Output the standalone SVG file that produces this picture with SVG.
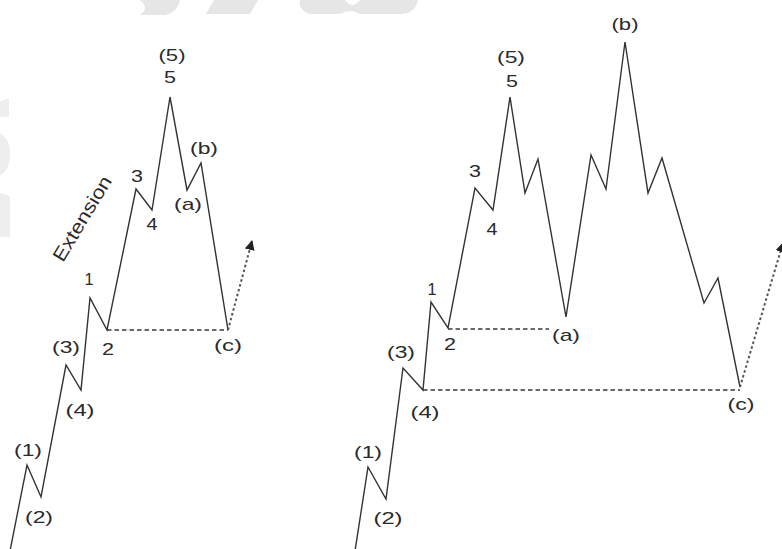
<svg xmlns="http://www.w3.org/2000/svg" width="782" height="549" viewBox="0 0 782 549">
<style>
.wm{fill:#e6e6e6;stroke:none}
.wm2{fill:#eeeeee;stroke:none}
.wave{fill:none;stroke:#333;stroke-width:1.4;stroke-linejoin:miter}
.dash{fill:none;stroke:#3a3a3a;stroke-width:1.4;stroke-dasharray:4.5 3}
.dot{fill:none;stroke:#555;stroke-width:2;stroke-dasharray:2.5 2.5}
.lbl{font-family:"Liberation Sans",Arial,sans-serif;font-size:17px;fill:#2a2a2a;text-anchor:middle}
</style>
<defs>
<marker id="ah" viewBox="0 0 10 10" refX="9" refY="5" markerWidth="10" markerHeight="10" markerUnits="userSpaceOnUse" orient="auto">
<path d="M0,0 L10,5 L0,10 Z" fill="#222"/>
</marker>
</defs>
<rect width="782" height="549" fill="#fff"/>
<g id="watermark">
<path class="wm" d="M140,0 L180,0 Q178,12 165,15 L140,15 Q150,8 140,0 Z"/>
<path class="wm" d="M214,0 L258,0 L250,14 L206,14 Z"/>
<path class="wm" d="M300,0 L345,0 Q352,10 360,0 L418,0 Q415,14 400,14 L360,14 Q350,8 340,14 L310,14 Q298,10 300,0 Z"/>
<path class="wm2" d="M0,102 L9,98 L9,117 L0,117 Z"/>
<path class="wm2" d="M0,133 Q11,140 10,155 Q10,170 0,176 Z"/>
<path class="wm2" d="M0,193 L10,196 L10,237 L0,237 Z"/>
</g>
<g id="connectors">
<polyline id="wave-left" class="wave" points="10,551 27,465 41,497 66,365 81,390 90,298 107,330 136,189 152,210 170,97 187,190 201,163 228,330"/>
<polyline id="wave-right" class="wave" points="355,551 368,467 386,499 403,368 423,390 431,302 448,328 475,188 493,210 510,97 525,193 538,159 566,317 591,155 606,189 625,42 648,193 662,158 704,303 718,278 740,387"/>
<line class="dash" x1="107" y1="330" x2="228" y2="330"/>
<line class="dash" x1="448" y1="329" x2="549" y2="329"/>
<line class="dash" x1="423" y1="390" x2="740" y2="390"/>
<line class="dot" x1="228" y1="330" x2="252" y2="241" marker-end="url(#ah)"/>
<line class="dot" x1="740" y1="387" x2="783" y2="243" marker-end="url(#ah)"/>
</g>
<g id="labels-left">
<text class="lbl" x="172" y="61" textLength="27" lengthAdjust="spacingAndGlyphs">(5)</text>
<text class="lbl" x="170" y="83" textLength="12" lengthAdjust="spacingAndGlyphs">5</text>
<text class="lbl" x="204" y="154" textLength="28" lengthAdjust="spacingAndGlyphs">(b)</text>
<text class="lbl" x="188" y="210" textLength="28" lengthAdjust="spacingAndGlyphs">(a)</text>
<text class="lbl" x="137" y="182" textLength="12" lengthAdjust="spacingAndGlyphs">3</text>
<text class="lbl" x="152" y="230" textLength="11" lengthAdjust="spacingAndGlyphs">4</text>
<text class="lbl" x="89" y="285" textLength="9" lengthAdjust="spacingAndGlyphs">1</text>
<text class="lbl" x="108" y="355" textLength="12" lengthAdjust="spacingAndGlyphs">2</text>
<text class="lbl" x="66" y="353" textLength="28" lengthAdjust="spacingAndGlyphs">(3)</text>
<text class="lbl" x="80" y="416" textLength="29" lengthAdjust="spacingAndGlyphs">(4)</text>
<text class="lbl" x="28" y="456" textLength="28" lengthAdjust="spacingAndGlyphs">(1)</text>
<text class="lbl" x="39" y="523" textLength="28" lengthAdjust="spacingAndGlyphs">(2)</text>
<text class="lbl" x="228" y="351" textLength="28" lengthAdjust="spacingAndGlyphs">(c)</text>
<text class="lbl" style="text-anchor:start;font-size:19px" transform="translate(63,263) rotate(-59)" textLength="96" lengthAdjust="spacingAndGlyphs">Extension</text>
</g>
<g id="labels-right">
<text class="lbl" x="511" y="63" textLength="28" lengthAdjust="spacingAndGlyphs">(5)</text>
<text class="lbl" x="512" y="87" textLength="12" lengthAdjust="spacingAndGlyphs">5</text>
<text class="lbl" x="625" y="30" textLength="27" lengthAdjust="spacingAndGlyphs">(b)</text>
<text class="lbl" x="475" y="177" textLength="12" lengthAdjust="spacingAndGlyphs">3</text>
<text class="lbl" x="492" y="235" textLength="11" lengthAdjust="spacingAndGlyphs">4</text>
<text class="lbl" x="432" y="295" textLength="9" lengthAdjust="spacingAndGlyphs">1</text>
<text class="lbl" x="450" y="350" textLength="12" lengthAdjust="spacingAndGlyphs">2</text>
<text class="lbl" x="566" y="341" textLength="28" lengthAdjust="spacingAndGlyphs">(a)</text>
<text class="lbl" x="401" y="358" textLength="28" lengthAdjust="spacingAndGlyphs">(3)</text>
<text class="lbl" x="425" y="418" textLength="29" lengthAdjust="spacingAndGlyphs">(4)</text>
<text class="lbl" x="368" y="458" textLength="28" lengthAdjust="spacingAndGlyphs">(1)</text>
<text class="lbl" x="388" y="524" textLength="29" lengthAdjust="spacingAndGlyphs">(2)</text>
<text class="lbl" x="741" y="410" textLength="27" lengthAdjust="spacingAndGlyphs">(c)</text>
</g>
</svg>
